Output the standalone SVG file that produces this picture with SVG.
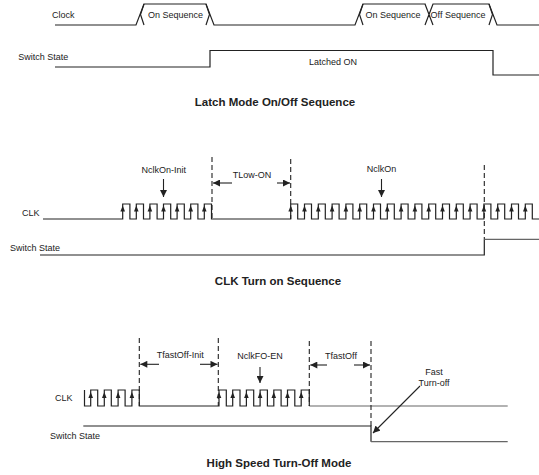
<svg xmlns="http://www.w3.org/2000/svg" xmlns:xlink="http://www.w3.org/1999/xlink" width="539" height="475" viewBox="0 0 539 475">
<style>
  .wave{fill:none;stroke:#222;stroke-width:1.2}
  .grey{fill:none;stroke:#666;stroke-width:1.2}
  .dash{fill:none;stroke:#222;stroke-width:1.1;stroke-dasharray:5,3}
  .lbl{font-family:"Liberation Sans",Arial,sans-serif;font-size:9px;fill:#222}
  .mid{text-anchor:middle}
  .title{font-family:"Liberation Sans",Arial,sans-serif;font-size:11.5px;font-weight:bold;fill:#222;text-anchor:middle}
  .conn{fill:none;stroke:#222;stroke-width:1.1}
</style>
<defs>
  <path id="up" d="M0,0 L2.3,6 L-2.3,6 Z" fill="#222"/>
  <marker id="ah" viewBox="0 0 10 10" refX="10" refY="5" markerWidth="8" markerHeight="7" markerUnits="userSpaceOnUse" orient="auto">
    <path d="M0,0 L10,5 L0,10 Z" fill="#222"/>
  </marker>
</defs>

<!-- Section 1 -->
<g id="latch-clock">
  <text class="lbl" x="52" y="18.3">Clock</text>
  <path class="wave" d="M55,25 H136 L144,4 H206 L214,25 H355 L363,4 H425 L429,14.5 L425,25 M425,4 L433,25 M429,14.5 L433,4 H489 L497,25 H539"/>
  <path class="wave" d="M144,4 L140.5,14.5 L144,25 M206,4 L209.5,14.5 L206,25 M363,4 L359.5,14.5 L363,25 M489,4 L492.5,14.5 L489,25"/>
  <text class="lbl mid" x="175.5" y="17.8">On Sequence</text>
  <text class="lbl mid" x="393" y="17.8">On Sequence</text>
  <text class="lbl mid" x="458" y="17.8">Off Sequence</text>
</g>
<g id="latch-switch">
  <text class="lbl" x="18.3" y="60">Switch State</text>
  <path class="wave" d="M55,67 H210 V50.5 H493 V75 H539"/>
  <text class="lbl mid" x="333" y="65">Latched ON</text>
</g>
<g id="latch-title">
  <text class="title" x="275" y="106">Latch Mode On/Off Sequence</text>
</g>

<!-- Section 2 -->
<g id="clk-on-clock">
  <text class="lbl" x="22" y="216">CLK</text>
  <path class="wave" d="M43,219 H122.7 V204 H129.9 V219 H136.3 V204 H143.5 V219 H149.9 V204 H157.1 V219 H163.5 V204 H170.7 V219 H177.1 V204 H184.3 V219 H190.7 V204 H197.9 V219 H204.3 V204 H211.5 V219 H290.7 V204 H297.7 V219 H304.5 V204 H311.5 V219 H318.3 V204 H325.3 V219 H332.1 V204 H339.1 V219 H345.9 V204 H352.9 V219 H359.7 V204 H366.7 V219 H373.5 V204 H380.5 V219 H387.3 V204 H394.3 V219 H401.1 V204 H408.1 V219 H414.9 V204 H421.9 V219 H428.7 V204 H435.7 V219 H442.5 V204 H449.5 V219 H456.3 V204 H463.3 V219 H470.1 V204 H477.1 V219 H483.9 V204 H490.9 V219 H497.7 V204 H504.7 V219 H511.5 V204 H518.5 V219 H525.3 V204 H532.3 V219 H539"/>
  <g>
    <use xlink:href="#up" x="122.7" y="205.5"/><use xlink:href="#up" x="136.3" y="205.5"/><use xlink:href="#up" x="149.9" y="205.5"/><use xlink:href="#up" x="163.5" y="205.5"/><use xlink:href="#up" x="177.1" y="205.5"/><use xlink:href="#up" x="190.7" y="205.5"/><use xlink:href="#up" x="204.3" y="205.5"/>
    <use xlink:href="#up" x="290.7" y="205.5"/><use xlink:href="#up" x="304.5" y="205.5"/><use xlink:href="#up" x="318.3" y="205.5"/><use xlink:href="#up" x="332.1" y="205.5"/><use xlink:href="#up" x="345.9" y="205.5"/><use xlink:href="#up" x="359.7" y="205.5"/><use xlink:href="#up" x="373.5" y="205.5"/><use xlink:href="#up" x="387.3" y="205.5"/><use xlink:href="#up" x="401.1" y="205.5"/><use xlink:href="#up" x="414.9" y="205.5"/><use xlink:href="#up" x="428.7" y="205.5"/><use xlink:href="#up" x="442.5" y="205.5"/><use xlink:href="#up" x="456.3" y="205.5"/><use xlink:href="#up" x="470.1" y="205.5"/><use xlink:href="#up" x="483.9" y="205.5"/><use xlink:href="#up" x="497.7" y="205.5"/><use xlink:href="#up" x="511.5" y="205.5"/><use xlink:href="#up" x="525.3" y="205.5"/>
  </g>
  <text class="lbl mid" x="163.7" y="173">NclkOn-Init</text>
  <text class="lbl mid" x="252" y="178">TLow-ON</text>
  <text class="lbl mid" x="381.5" y="172">NclkOn</text>
</g>
<g id="clk-on-switch">
  <text class="lbl" x="10" y="251">Switch State</text>
  <path class="wave" d="M40,255 H484.3 V239.3"/>
  <path class="grey" d="M484.3,239.3 H539"/>
</g>
<g id="clk-on-title">
  <text class="title" x="278" y="285">CLK Turn on Sequence</text>
</g>

<!-- Section 3 -->
<g id="fastoff-clock">
  <text class="lbl" x="55" y="401">CLK</text>
  <path class="wave" d="M84.5,390 V406 H90.7 V390 H97.7 V406 H104.3 V390 H111.3 V406 H118.1 V390 H125.1 V406 H131.9 V390 H139.3 V406 H219 V390 H226.3 V406 H232.7 V390 H240 V406 H246.4 V390 H253.7 V406 H260.1 V390 H267.4 V406 H273.8 V390 H281.1 V406 H287.5 V390 H294.8 V406 H301.2 V390 H309.3 V406"/>
  <path class="grey" d="M309.3,406 H507.7"/>
  <g>
    <use xlink:href="#up" x="90.7" y="392"/><use xlink:href="#up" x="104.3" y="392"/><use xlink:href="#up" x="118.1" y="392"/><use xlink:href="#up" x="131.9" y="392"/>
    <use xlink:href="#up" x="219" y="392"/><use xlink:href="#up" x="232.7" y="392"/><use xlink:href="#up" x="246.4" y="392"/><use xlink:href="#up" x="260.1" y="392"/><use xlink:href="#up" x="273.8" y="392"/><use xlink:href="#up" x="287.5" y="392"/><use xlink:href="#up" x="301.2" y="392"/>
  </g>
  <text class="lbl mid" x="180.3" y="358">TfastOff-Init</text>
  <text class="lbl mid" x="260" y="359">NclkFO-EN</text>
  <text class="lbl mid" x="341" y="359">TfastOff</text>
  <text class="lbl mid" x="434" y="375">Fast</text>
  <text class="lbl mid" x="434" y="386">Turn-off</text>
</g>
<g id="fastoff-switch">
  <text class="lbl" x="50" y="439">Switch State</text>
  <path class="wave" d="M83.3,426 H371 V441.7"/>
  <path class="grey" d="M371,441.7 H507.7"/>
</g>
<g id="fastoff-title">
  <text class="title" x="279" y="467">High Speed Turn-Off Mode</text>
</g>

<!-- Connectors: dashed markers and arrows -->
<g id="connectors">
  <path class="dash" d="M212,157 V219 M290.7,159 V219 M484.3,165 V239.3"/>
  <path class="dash" d="M139.3,338 V406 M218.3,338 V406 M309.3,341 V406 M371,341 V426"/>
  <line class="conn" x1="163.5" y1="179" x2="163.5" y2="197" marker-end="url(#ah)"/>
  <line class="conn" x1="232" y1="183" x2="213" y2="183" marker-end="url(#ah)"/>
  <line class="conn" x1="277" y1="183" x2="290" y2="183" marker-end="url(#ah)"/>
  <line class="conn" x1="381.5" y1="179" x2="381.5" y2="197" marker-end="url(#ah)"/>
  <line class="conn" x1="159" y1="364.3" x2="140.3" y2="364.3" marker-end="url(#ah)"/>
  <line class="conn" x1="200" y1="364.3" x2="217.5" y2="364.3" marker-end="url(#ah)"/>
  <line class="conn" x1="260" y1="367" x2="260" y2="383" marker-end="url(#ah)"/>
  <line class="conn" x1="327" y1="365" x2="310.3" y2="365" marker-end="url(#ah)"/>
  <line class="conn" x1="354" y1="365" x2="370" y2="365" marker-end="url(#ah)"/>
  <line class="conn" x1="420" y1="386" x2="373" y2="433" marker-end="url(#ah)"/>
</g>
</svg>
